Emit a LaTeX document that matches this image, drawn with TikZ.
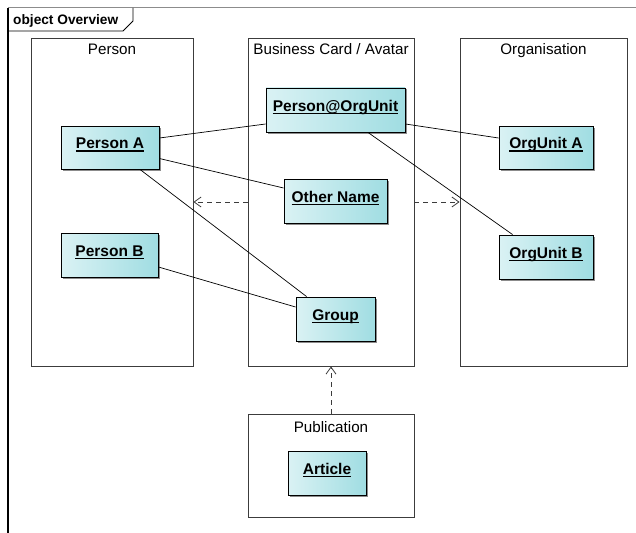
\documentclass[tikz,border=0pt]{standalone}
\usepackage{fontspec}
\setmainfont{Liberation Sans}
\usetikzlibrary{arrows.meta,shadows}
\definecolor{clsL}{RGB}{218,242,244}
\definecolor{clsR}{RGB}{160,221,226}
\definecolor{pkgline}{RGB}{60,60,60}
\newcommand\ulbox[1]{\setbox0=\hbox{#1}\leavevmode\rlap{\copy0}\rule[-3pt]{\wd0}{1.2pt}}
\tikzset{
  clsbox/.style={draw=black, line width=0.9pt, left color=clsL, right color=clsR,
    minimum height=44pt, inner sep=0pt, text height=5pt, text depth=3pt,
    font=\fontsize{15.5}{18}\selectfont\bfseries,
    drop shadow={shadow xshift=1.5pt, shadow yshift=-1.5pt, fill=black!45, opacity=1}},
  pkgbox/.style={draw=pkgline, line width=0.9pt, inner sep=0pt, minimum width=166pt, minimum height=328pt},
  pkgtitle/.style={inner sep=0pt, anchor=base, font=\fontsize{15.2}{18}\selectfont},
  assoc/.style={line width=0.7pt, black},
  dep/.style={line width=0.8pt, pkgline, dash pattern=on 5pt off 4pt, -{Straight Barb[length=7pt,width=10pt,line width=0.8pt]}}
}
\begin{document}
\begin{tikzpicture}[x=1pt,y=-1pt]
\useasboundingbox (0,0) rectangle (636,532);
% frame
\draw[black!45, line width=1pt] (8,8) -- (640,8);
\draw[black, line width=1.2pt] (8,8) -- (8,540);
\draw[black, line width=0.9pt] (8,31) -- (123,31) -- (133,21) -- (133,8);
\node[anchor=base west, inner sep=0pt, font=\fontsize{13.7}{16}\selectfont\bfseries] (ttl) at (13,24.5) {object Overview};
% packages
\node[pkgbox, minimum width=162pt] (person) at (112,202) {};
\node[pkgbox] (bc) at (331,202) {};
\node[pkgbox, minimum width=167pt] (org) at (543.5,202) {};
\node[pkgbox, minimum height=103pt] (pub) at (331,465.5) {};
\node[pkgtitle] (personT) at (112,54.5) {Person};
\node[pkgtitle] (bcT) at (331,54.5) {Business Card / Avatar};
\node[pkgtitle] (orgT) at (543.5,54.5) {Organisation};
\node[pkgtitle] (pubT) at (331,432.5) {Publication};
% classes
\node[clsbox, minimum width=98pt, minimum height=43pt] (pa) at (110,147.5) {\ulbox{Person A}};
\node[clsbox, minimum width=97pt] (pb) at (109.5,255) {\ulbox{Person B}};
\node[clsbox, minimum width=139pt] (po) at (335.5,110) {\ulbox{Person@OrgUnit}};
\node[clsbox, minimum width=103pt] (on) at (335.5,201) {\ulbox{Other Name}};
\node[clsbox, minimum width=79pt] (gr) at (335.5,319) {\ulbox{Group}};
\node[clsbox, minimum width=94pt, minimum height=43pt] (oa) at (546,147.5) {\ulbox{OrgUnit A}};
\node[clsbox, minimum width=94pt] (ob) at (546,257) {\ulbox{OrgUnit B}};
\node[clsbox, minimum width=78pt] (ar) at (327,473) {\ulbox{Article}};
% associations
\draw[assoc] ([yshift=9.5pt]pa.east) -- ([yshift=-14pt]po.west);
\draw[assoc] ([yshift=-11pt]pa.east) -- ([yshift=13pt]on.west);
\draw[assoc] ([xshift=30pt]pa.south) -- ([xshift=11pt]gr.north west);
\draw[assoc] ([yshift=-12pt]pb.east) -- ([yshift=12pt]gr.west);
\draw[assoc] ([yshift=-14pt]po.east) -- ([yshift=9.5pt]oa.west);
\draw[assoc] ([xshift=32.5pt]po.south) -- ([xshift=14pt]ob.north west);
% dependencies
\draw[dep] (bc.west) -- (person.east);
\draw[dep] (bc.east) -- (org.west);
\draw[dep] (pub.north) -- (bc.south);
\end{tikzpicture}
\end{document}
